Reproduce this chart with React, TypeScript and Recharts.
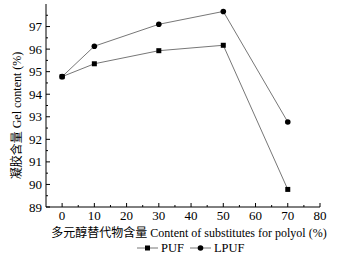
import React from "react";
import { LineChart, Line, XAxis, YAxis, Legend } from "recharts";

const contents = [0, 10, 30, 50, 70];
const pufValues = [94.78, 95.35, 95.93, 96.17, 89.78];
const lpufValues = [94.78, 96.13, 97.1, 97.67, 92.77];
const xTicks = [0, 5, 10, 15, 20, 25, 30, 35, 40, 45, 50, 55, 60, 65, 70, 75, 80];
const yTicks = [89, 89.5, 90, 90.5, 91, 91.5, 92, 92.5, 93, 93.5, 94, 94.5, 95, 95.5, 96, 96.5, 97, 97.5];

const data = contents.map((c, i) => ({ x: c, PUF: pufValues[i], LPUF: lpufValues[i] }));

const font = '"Liberation Serif", "Times New Roman", "Noto Sans CJK SC", serif';
const lineColor = "#777";

function XTick({ x, y, payload }: any) {
  const major = payload.value % 10 === 0;
  return (
    <g>
      <line x1={x} x2={x} y1={y} y2={y - (major ? 4 : 2)} stroke="#000" />
      {major && (
        <text x={x} y={y + 12.5} textAnchor="middle" fontSize={13} fontFamily={font} fill="#000">
          {payload.value}
        </text>
      )}
    </g>
  );
}

function YTick({ x, y, payload }: any) {
  const major = Number.isInteger(payload.value);
  return (
    <g>
      <line x1={x} x2={x + (major ? 4 : 2)} y1={y} y2={y} stroke="#000" />
      {major && (
        <text x={x - 4} y={y + 4.5} textAnchor="end" fontSize={13} fontFamily={font} fill="#000">
          {payload.value}
        </text>
      )}
    </g>
  );
}

function Square({ cx, cy }: any) {
  return <rect x={cx - 2.5} y={cy - 2.5} width={5} height={5} fill="#000" />;
}

function Dot({ cx, cy }: any) {
  return <circle cx={cx} cy={cy} r={2.8} fill="#000" />;
}

function LegendContent() {
  const item = (name: string, square: boolean) => (
    <span style={{ display: "inline-flex", alignItems: "center", marginRight: 6 }}>
      <svg width={21} height={8}>
        <line x1={0} x2={21} y1={4} y2={4} stroke={lineColor} />
        {square ? <rect x={8} y={1.5} width={5} height={5} fill="#000" /> : <circle cx={10.5} cy={4} r={2.8} fill="#000" />}
      </svg>
      <span style={{ marginLeft: 3 }}>{name}</span>
    </span>
  );
  return (
    <div style={{ fontFamily: font, fontSize: 12.5, color: "#000", textAlign: "left", lineHeight: "16px", paddingLeft: 131, whiteSpace: "nowrap" }}>
      {item("PUF", true)}
      {item("LPUF", false)}
    </div>
  );
}

export default function App() {
  return (
    <div style={{ width: 349, height: 261, background: "#fff", position: "absolute", left: 0, top: 0 }}>
      <LineChart width={349} height={261} data={data} margin={{ top: 4, right: 29, left: 6, bottom: 5 }}>
        <XAxis
          type="number"
          dataKey="x"
          domain={[-5, 80]}
          ticks={xTicks}
          interval={0}
          tickSize={0}
          tickMargin={0}
          tickLine={false}
          tick={<XTick />}
          height={33}
          axisLine={{ stroke: "#000" }}
          label={{
            content: ({ viewBox }: any) => (
              <text
                x={viewBox.x + viewBox.width / 2 + 6}
                y={viewBox.y + 30}
                textAnchor="middle"
                fontSize={12}
                fontFamily={font}
                fill="#000"
              >
                多元醇替代物含量 Content of substitutes for polyol (%)
              </text>
            ),
          }}
        />
        <YAxis
          type="number"
          domain={[89, 98]}
          ticks={yTicks}
          interval={0}
          width={40}
          tickSize={0}
          tickMargin={0}
          tickLine={false}
          tick={<YTick />}
          axisLine={{ stroke: "#000" }}
          label={{
            content: ({ viewBox }: any) => {
              const cx = viewBox.x + 12;
              const cy = viewBox.y + viewBox.height / 2 + 10;
              return (
                <text
                  x={cx}
                  y={cy}
                  transform={`rotate(-90 ${cx} ${cy})`}
                  textAnchor="middle"
                  dominantBaseline="middle"
                  fontSize={12}
                  fontFamily={font}
                  fill="#000"
                >
                  凝胶含量 Gel content (%)
                </text>
              );
            },
          }}
        />
        <Legend verticalAlign="bottom" height={16} content={<LegendContent />} />
        <Line dataKey="PUF" stroke={lineColor} strokeWidth={1} dot={<Square />} isAnimationActive={false} />
        <Line dataKey="LPUF" stroke={lineColor} strokeWidth={1} dot={<Dot />} isAnimationActive={false} />
      </LineChart>
    </div>
  );
}
